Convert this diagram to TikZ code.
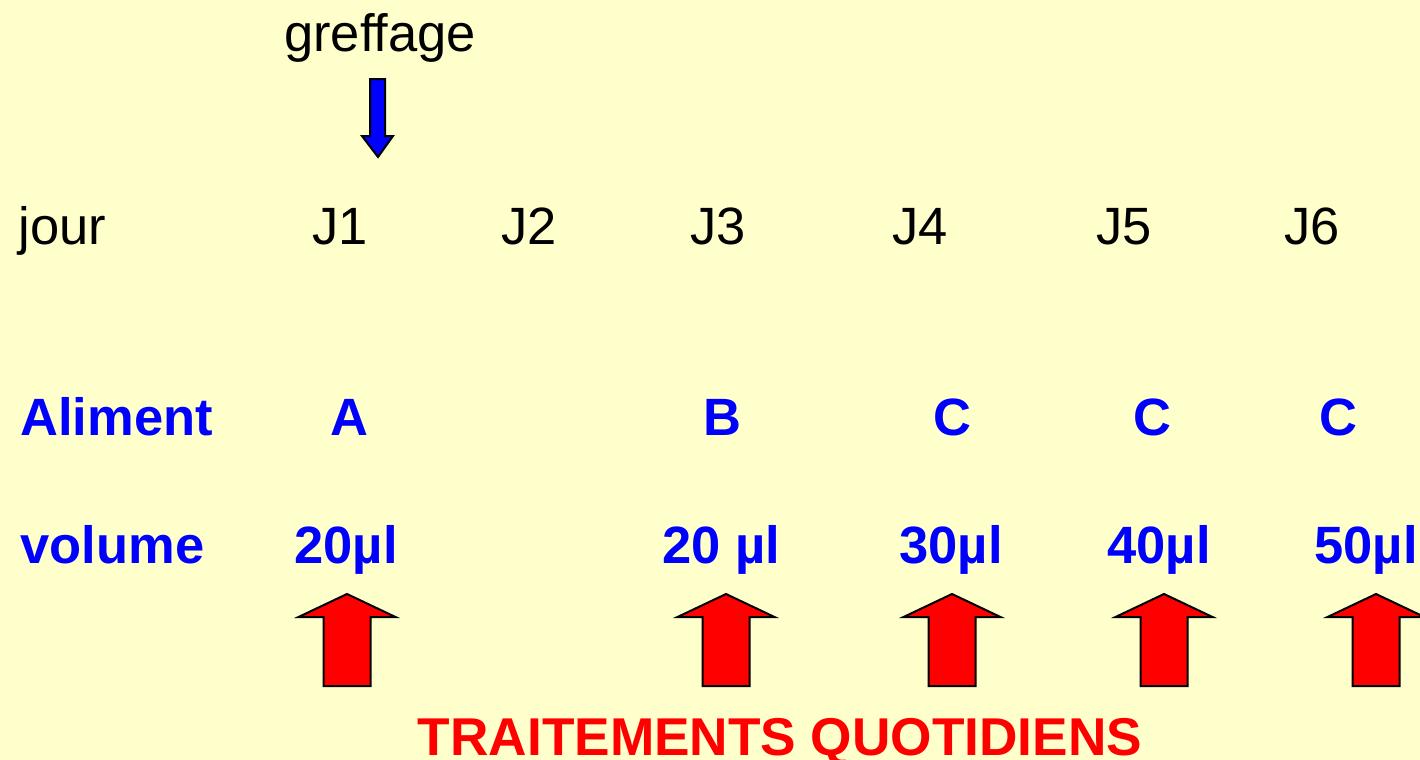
\documentclass[tikz,border=0pt]{standalone}
\usepackage{fontspec}
\setmainfont{Liberation Sans}
\definecolor{bgyellow}{HTML}{FFFFCC}
\definecolor{txtblue}{HTML}{0000FF}
\definecolor{arrred}{HTML}{FF0000}
\begin{document}
\begin{tikzpicture}[x=0.5pt,y=-0.5pt,
  lbl/.style={inner sep=0pt,anchor=base,font=\fontsize{26.25}{30}\selectfont},
  lblw/.style={lbl,anchor=base west},
  bluebold/.style={text=txtblue,font=\fontsize{26.25}{30}\selectfont\bfseries},
  upred/.style={fill=arrred,draw=black,line width=1pt,line join=miter},
  downblue/.style={fill=txtblue,draw=black,line width=1pt,line join=miter}]
\fill[bgyellow] (0,0) rectangle (1420,760);
\useasboundingbox (0,0) rectangle (1420,760);
% top
\node[lbl] (greffage) at (380,51) {greffage};
\draw[downblue] (370,79) -- (385,79) -- (385,136) -- (393,136) -- (378,157) -- (362,136) -- (370,136) -- cycle;
% days
\node[lblw] (jour) at (18,244) {jour};
\node[lbl] (j1) at (340,244) {J1};
\node[lbl] (j2) at (529,244) {J2};
\node[lbl] (j3) at (718,244) {J3};
\node[lbl] (j4) at (920,244) {J4};
\node[lbl] (j5) at (1124,244) {J5};
\node[lbl] (j6) at (1312,244) {J6};
% aliment
\node[lblw,bluebold] (aliment) at (20,435) {Aliment};
\node[lbl,bluebold] (a1) at (349,435) {A};
\node[lbl,bluebold] (a3) at (722,435) {B};
\node[lbl,bluebold] (a4) at (952,435) {C};
\node[lbl,bluebold] (a5) at (1152,435) {C};
\node[lbl,bluebold] (a6) at (1338,435) {C};
% volume
\node[lblw,bluebold] (volume) at (20,563) {volume};
\node[lbl,bluebold] (v1) at (346,563) {20µl};
\node[lbl,bluebold] (v3) at (721,563) {20 µl};
\node[lbl,bluebold] (v4) at (951,563) {30µl};
\node[lbl,bluebold] (v5) at (1159,563) {40µl};
\node[lbl,bluebold] (v6) at (1366,563) {50µl};
% red arrows
\foreach \cx in {347,726,952,1164,1376}{
  \draw[upred] (\cx-23.5,686) -- (\cx-23.5,617) -- (\cx-48.5,617) -- (\cx,594) -- (\cx+48.5,617) -- (\cx+23.5,617) -- (\cx+23.5,686) -- cycle;
}
\node[lbl,text=arrred,font=\fontsize{26.6}{30}\selectfont\bfseries] (traitements) at (780,755) {TRAITEMENTS QUOTIDIENS};
\end{tikzpicture}
\end{document}
